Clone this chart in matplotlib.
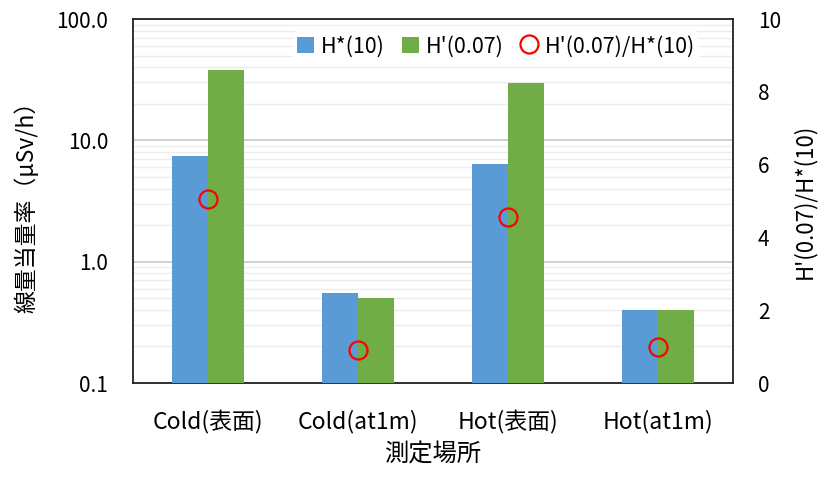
import matplotlib.pyplot as plt
import numpy as np
from matplotlib.patches import Patch
from matplotlib.lines import Line2D
from matplotlib.ticker import FixedLocator, FuncFormatter

plt.rcParams['font.family'] = ['Noto Sans CJK JP', 'DejaVu Sans']

# 測定データ
places = ['Cold(表面)', 'Cold(at1m)', 'Hot(表面)', 'Hot(at1m)']
h10 = [7.4, 0.55, 6.4, 0.40]       # H*(10)  µSv/h
h007 = [37.8, 0.50, 29.5, 0.40]    # H'(0.07) µSv/h
ratio = [5.05, 0.90, 4.57, 1.0]    # H'(0.07)/H*(10)

blue = '#5B9BD5'
green = '#70AD47'

fig = plt.figure(figsize=(8.19, 4.78), dpi=100)
ax = fig.add_axes([133 / 819, 95 / 478, 600 / 819, 364 / 478])

x = np.arange(len(places))
w = 0.24
ax.bar(x - w / 2, h10, width=w, color=blue, zorder=3)
ax.bar(x + w / 2, h007, width=w, color=green, zorder=3)

ax.set_yscale('log')
ax.set_ylim(0.1, 100)
ax.set_xlim(-0.5, 3.5)
ax.yaxis.set_major_locator(FixedLocator([0.1, 1, 10, 100]))
ax.yaxis.set_major_formatter(FuncFormatter(lambda v, p: f'{v:.1f}'))
minors = [m * 10.0 ** e for e in (-1, 0, 1) for m in range(2, 10)]
ax.yaxis.set_minor_locator(FixedLocator(minors))
ax.yaxis.set_minor_formatter(FuncFormatter(lambda v, p: ''))
ax.grid(which='major', axis='y', color='#c8c8c8', linewidth=1.2, zorder=0)
ax.grid(which='minor', axis='y', color='#ececec', linewidth=1.0, zorder=0)
ax.tick_params(which='both', length=0)
ax.tick_params(axis='y', labelsize=15, pad=18)
ax.tick_params(axis='x', labelsize=16.5, pad=19)
ax.set_xticks(x)
ax.set_xticklabels(places)
ax.set_xlabel('測定場所', fontsize=17.5, labelpad=6)
ax.set_ylabel('線量当量率（μSv/h）', fontsize=16.5, labelpad=13)
for s in ax.spines.values():
    s.set_color('#222222')
    s.set_linewidth(1.3)

ax2 = ax.twinx()
ax2.set_ylim(0, 10)
ax2.set_yticks(range(0, 11, 2))
ax2.plot(x, ratio, linestyle='none', marker='o', markersize=13,
         markerfacecolor='none', markeredgecolor='#FF0000', markeredgewidth=1.6,
         zorder=5)
ax2.tick_params(length=0, labelsize=15, pad=18)
ax2.set_ylabel("H'(0.07)/H*(10)", fontsize=16, labelpad=8)
for s in ax2.spines.values():
    s.set_visible(False)

handles = [
    Patch(facecolor=blue, label='H*(10)'),
    Patch(facecolor=green, label="H'(0.07)"),
    Line2D([], [], linestyle='none', marker='o', markersize=13,
           markerfacecolor='none', markeredgecolor='#FF0000',
           markeredgewidth=1.6, label="H'(0.07)/H*(10)"),
]
leg = ax2.legend(handles=handles, ncol=3, loc='center', bbox_to_anchor=(0.605, 0.925),
                 fontsize=15.5, frameon=True, facecolor='white', edgecolor='none',
                 framealpha=1, handlelength=0.8, handleheight=0.8,
                 handletextpad=0.3, columnspacing=0.8, borderpad=0.2)
leg.set_zorder(10)

fig.savefig('out.png', dpi=100)
